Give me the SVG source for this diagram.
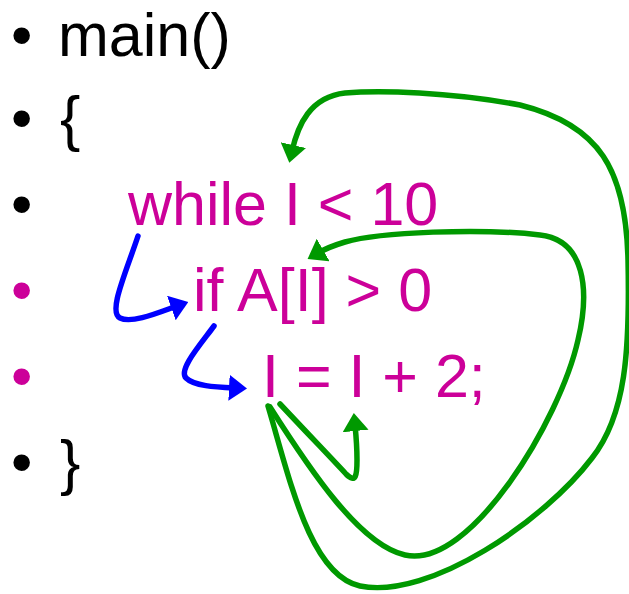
<svg xmlns="http://www.w3.org/2000/svg" width="629" height="594" viewBox="0 0 629 594">
<style>
text{font-family:"Liberation Sans",Arial,sans-serif;font-size:61px}
.k{fill:#000}
.m{fill:#CC0099}
.b{fill:none;stroke:#0000FF;stroke-width:5.5;stroke-linecap:round}
.g{fill:none;stroke:#009900;stroke-width:5.5;stroke-linecap:round}
</style>
<defs>
<marker id="ab" viewBox="0 0 18 26" refX="6" refY="13" markerWidth="18" markerHeight="26" markerUnits="userSpaceOnUse" orient="auto"><path d="M0,0 L18,13 L0,26 z" fill="#0000FF"/></marker>
<marker id="ag" viewBox="0 0 18 26" refX="6" refY="13" markerWidth="18" markerHeight="26" markerUnits="userSpaceOnUse" orient="auto"><path d="M0,0 L18,13 L0,26 z" fill="#009900"/></marker>
</defs>
<rect width="629" height="594" fill="#fff"/>
<g id="line1"><text class="k" x="11" y="56">•</text><text class="k" x="58" y="56">main()</text></g>
<g id="line2"><text class="k" x="11" y="139">•</text><text class="k" x="60" y="139">{</text></g>
<g id="line3"><text class="k" x="11" y="225">•</text><text class="m" x="128" y="225">while I &lt; 10</text></g>
<g id="line4"><text class="m" x="11" y="311">•</text><text class="m" x="193" y="311">if A[I] &gt; 0</text></g>
<g id="line5"><text class="m" x="11" y="397">•</text><text class="m" x="262" y="397">I = I + 2;</text></g>
<g id="line6"><text class="k" x="11" y="483">•</text><text class="k" x="60" y="483">}</text></g>
<g id="connectors">
<path class="b" marker-end="url(#ab)" d="M138,236 C125,275 108,312 120,318 C132,324 160,312 177,306"/>
<path class="b" marker-end="url(#ab)" d="M214,326 C200,345 178,370 186,378 C194,386 215,387 235,388"/>
<path class="g" marker-end="url(#ag)" d="M280,404 C310,436 335,462 346,474 C356,484 357,475 357,460 C357,445 356,435 355,425"/>
<path class="g" marker-end="url(#ag)" d="M270,407 C310,470 360,545 405,555 C470,570 560,420 578,340 C590,290 585,240 540,235 C480,228 380,232 345,242 C335,245 325,249 318,253"/>
<path class="g" marker-end="url(#ag)" d="M268,406 C290,480 310,575 360,586 C430,600 545,520 592,458 C626,415 630,350 628,260 C626,170 600,125 520,105 C450,92 380,90 345,93 C310,97 298,125 292,151"/>
</g>
</svg>
